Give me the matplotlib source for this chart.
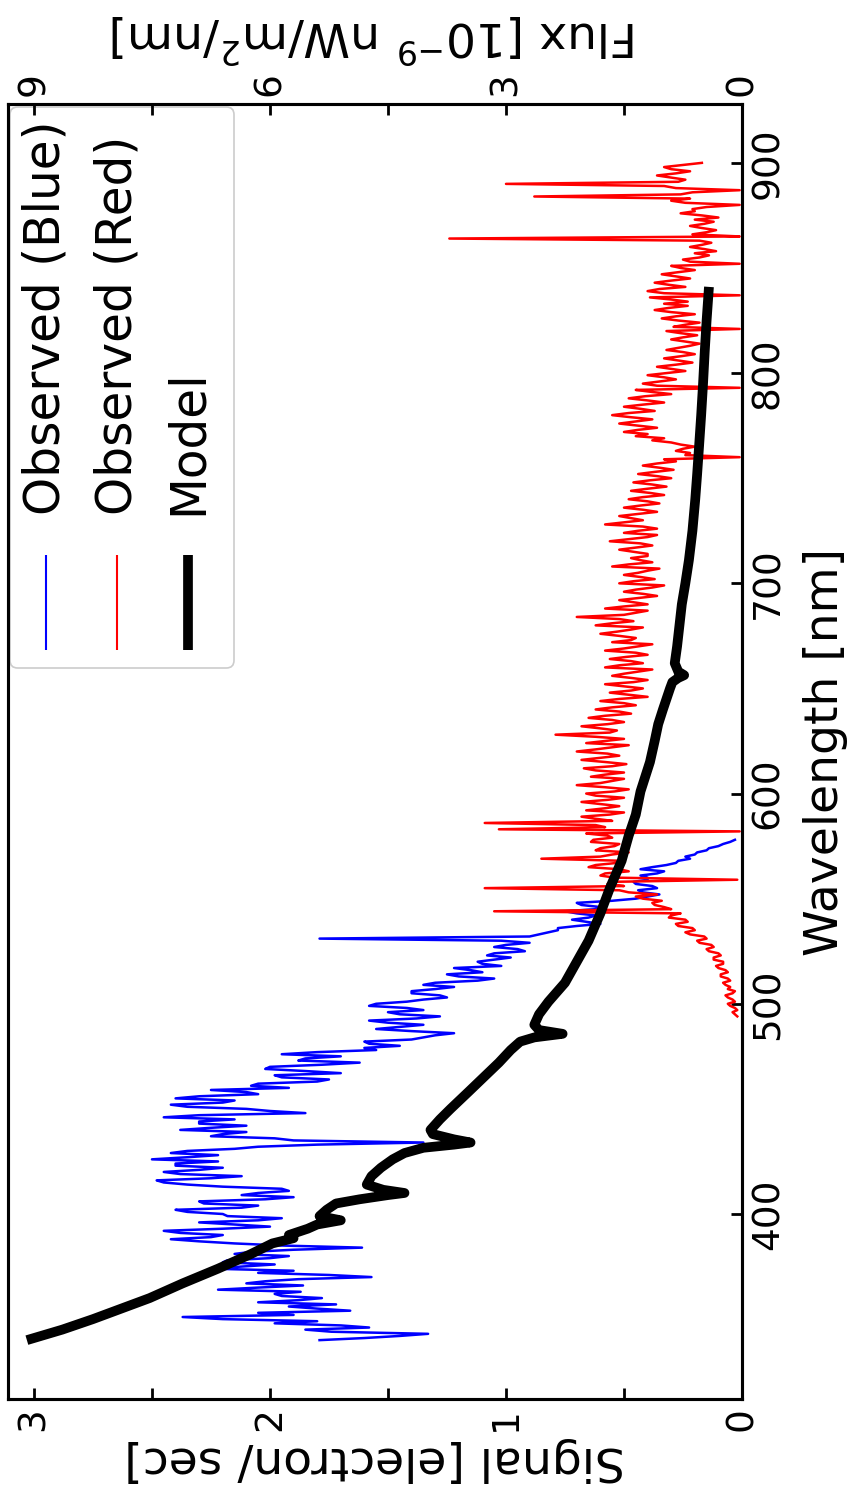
import numpy as np
import matplotlib.pyplot as plt
from matplotlib.patches import FancyBboxPatch
from matplotlib.lines import Line2D
from matplotlib.ticker import MultipleLocator

# observed spectrum, blue arm (1 nm steps, 340-578 nm), signal in electron/sec
blue_wl = np.arange(340, 579)
blue_signal = [
    1.79, 1.60, 1.45, 1.33, 1.74, 1.85, 1.58, 1.70, 1.98, 1.80,
    2.20, 2.37, 1.90, 2.05, 1.66, 1.80, 1.92, 1.72, 2.05, 1.88,   # 340-359
    1.78, 1.95, 1.98, 1.87, 2.22, 2.05, 1.86, 2.10, 2.02, 1.88,
    1.57, 1.75, 2.05, 1.90, 2.25, 2.12, 1.98, 2.20, 2.18, 2.00,   # 360-379
    1.92, 2.15, 2.08, 1.90, 1.61, 1.95, 2.15, 2.30, 2.42, 2.25,
    2.20, 2.38, 2.45, 2.20, 2.00, 2.15, 2.30, 2.05, 1.95, 2.18,   # 380-399
    2.20, 2.35, 2.40, 2.12, 2.05, 2.28, 2.30, 2.02, 1.90, 2.12,
    2.05, 1.92, 1.95, 2.20, 2.35, 2.45, 2.48, 2.25, 2.12, 2.38,   # 400-419
    2.45, 2.30, 2.20, 2.40, 2.40, 2.22, 2.50, 2.35, 2.22, 2.42,
    2.35, 2.15, 2.05, 1.80, 1.35, 1.90, 1.98, 2.25, 2.20, 2.10,   # 420-439
    2.38, 2.25, 2.10, 2.30, 2.30, 2.15, 2.45, 2.30, 1.85, 2.00,
    2.10, 2.35, 2.42, 2.20, 2.15, 2.40, 2.30, 2.05, 2.10, 2.25,   # 440-459
    1.92, 2.08, 2.05, 1.80, 1.75, 1.95, 1.98, 1.70, 1.85, 2.02,
    2.00, 1.78, 1.62, 1.88, 1.85, 1.70, 1.95, 1.80, 1.55, 1.60,   # 460-479
    1.45, 1.58, 1.60, 1.40, 1.35, 1.30, 1.22, 1.40, 1.55, 1.45,
    1.35, 1.50, 1.58, 1.38, 1.28, 1.45, 1.50, 1.35, 1.42, 1.58,   # 480-499
    1.55, 1.42, 1.35, 1.25, 1.28, 1.40, 1.40, 1.30, 1.22, 1.35,
    1.30, 1.12, 1.05, 1.20, 1.25, 1.10, 1.15, 1.22, 1.02, 1.10,   # 500-519
    1.12, 1.05, 0.98, 1.08, 1.05, 0.92, 0.95, 1.05, 1.00, 0.90,
    1.02, 1.79, 0.90, 0.86, 0.82, 0.78, 0.78, 0.70, 0.60, 0.66,   # 520-539
    0.72, 0.65, 0.62, 0.70, 0.75, 0.62, 0.60, 0.68, 0.70, 0.55,
    0.45, 0.40, 0.35, 0.42, 0.44, 0.36, 0.38, 0.45, 0.46, 0.40,   # 540-559
    0.40, 0.43, 0.36, 0.33, 0.43, 0.38, 0.32, 0.28, 0.27, 0.22,
    0.24, 0.20, 0.19, 0.15, 0.14, 0.10, 0.08, 0.05, 0.03,         # 560-578
]

# observed spectrum, red arm (1 nm steps, 494-900 nm)
red_wl = np.arange(494, 901)
red_signal = [
    0.02, 0.03, 0.04, 0.02, 0.03, 0.05, 0.06, 0.03, 0.04, 0.06,
    0.07, 0.04, 0.03, 0.06, 0.05, 0.07, 0.08, 0.05, 0.06, 0.09,   # 494-513
    0.09, 0.06, 0.07, 0.10, 0.11, 0.08, 0.08, 0.12, 0.12, 0.09,
    0.10, 0.14, 0.15, 0.12, 0.13, 0.18, 0.19, 0.15, 0.16, 0.22,   # 514-533
    0.24, 0.20, 0.21, 0.27, 0.28, 0.23, 0.24, 0.31, 0.30, 0.26,
    1.05, 0.30, 0.33, 0.37, 0.38, 0.34, 0.42, 0.45, 0.36, 0.48,   # 534-553
    0.52, 1.09, 0.50, 0.57, 0.55, 0.02, 0.54, 0.60, 0.58, 0.48,
    0.52, 0.65, 0.62, 0.53, 0.50, 0.85, 0.60, 0.55, 0.48, 0.62,   # 554-573
    0.60, 0.54, 0.52, 0.64, 0.63, 0.55, 0.57, 0.66, 0.01, 1.03,
    0.58, 0.62, 1.09, 0.55, 0.62, 0.68, 0.56, 0.50, 0.66, 0.58,   # 574-593
    0.52, 0.60, 0.68, 0.57, 0.50, 0.62, 0.66, 0.54, 0.48, 0.58,
    0.70, 0.60, 0.55, 0.50, 0.64, 0.58, 0.50, 0.62, 0.67, 0.55,   # 594-613
    0.49, 0.58, 0.68, 0.60, 0.52, 0.57, 0.70, 0.62, 0.55, 0.48,
    0.66, 0.58, 0.50, 0.62, 0.79, 0.56, 0.53, 0.60, 0.68, 0.57,   # 614-633
    0.50, 0.55, 0.65, 0.58, 0.47, 0.52, 0.62, 0.55, 0.45, 0.50,
    0.60, 0.52, 0.40, 0.48, 0.56, 0.47, 0.42, 0.50, 0.58, 0.46,   # 634-653
    0.40, 0.47, 0.55, 0.50, 0.44, 0.38, 0.58, 0.52, 0.42, 0.47,
    0.56, 0.49, 0.40, 0.45, 0.58, 0.50, 0.44, 0.38, 0.55, 0.47,   # 654-673
    0.45, 0.52, 0.60, 0.53, 0.47, 0.42, 0.62, 0.55, 0.46, 0.52,
    0.70, 0.50, 0.45, 0.40, 0.58, 0.50, 0.40, 0.46, 0.52, 0.44,   # 674-693
    0.36, 0.42, 0.50, 0.45, 0.38, 0.33, 0.52, 0.46, 0.37, 0.43,
    0.50, 0.44, 0.40, 0.35, 0.55, 0.48, 0.38, 0.43, 0.47, 0.40,   # 694-713
    0.40, 0.46, 0.52, 0.45, 0.38, 0.43, 0.56, 0.48, 0.40, 0.36,
    0.50, 0.44, 0.36, 0.42, 0.58, 0.50, 0.42, 0.47, 0.52, 0.44,   # 714-733
    0.36, 0.42, 0.50, 0.43, 0.35, 0.40, 0.48, 0.42, 0.33, 0.39,
    0.47, 0.40, 0.32, 0.38, 0.46, 0.39, 0.30, 0.36, 0.44, 0.37,   # 734-753
    0.29, 0.35, 0.42, 0.36, 0.28, 0.33, 0.01, 0.24, 0.22, 0.28,
    0.25, 0.20, 0.26, 0.30, 0.38, 0.33, 0.45, 0.40, 0.50, 0.44,   # 754-773
    0.36, 0.44, 0.52, 0.45, 0.38, 0.47, 0.55, 0.48, 0.37, 0.43,
    0.50, 0.42, 0.33, 0.40, 0.48, 0.41, 0.30, 0.38, 0.45, 0.01,   # 774-793
    0.36, 0.42, 0.35, 0.28, 0.33, 0.40, 0.32, 0.24, 0.30, 0.36,
    0.28, 0.21, 0.27, 0.33, 0.26, 0.20, 0.25, 0.32, 0.27, 0.22,   # 794-813
    0.18, 0.24, 0.30, 0.25, 0.19, 0.26, 0.32, 0.01, 0.29, 0.24,
    0.18, 0.27, 0.34, 0.28, 0.20, 0.30, 0.37, 0.31, 0.23, 0.33,   # 814-833
    0.23, 0.30, 0.39, 0.01, 0.33, 0.40, 0.35, 0.24, 0.31, 0.37,
    0.30, 0.22, 0.28, 0.34, 0.27, 0.20, 0.26, 0.30, 0.01, 0.22,   # 834-853
    0.25, 0.18, 0.14, 0.20, 0.11, 0.16, 0.22, 0.17, 0.13, 0.18,
    1.24, 0.01, 0.21, 0.15, 0.11, 0.17, 0.22, 0.16, 0.12, 0.20,   # 854-873
    0.10, 0.17, 0.26, 0.20, 0.21, 0.15, 0.01, 0.24, 0.30, 0.22,
    0.88, 0.26, 0.21, 0.01, 0.28, 0.33, 1.00, 0.27, 0.24, 0.30,   # 874-893
    0.36, 0.28, 0.22, 0.30, 0.33, 0.25, 0.17,                     # 894-900
]

# model spectrum
model_wl = [340, 345, 350, 355, 360, 367, 374, 381, 386, 388.5, 390, 393,
            395, 397, 399, 402, 405, 407, 409, 410, 411.5, 414, 418, 422,
            426, 429, 431.5, 433, 434, 435.5, 438, 440, 445, 450, 458, 465,
            472, 478, 482, 484, 485.7, 487.5, 490, 495, 501, 510, 520, 530,
            543, 555, 568, 580, 590, 601, 615, 625, 633, 640, 645, 650, 653,
            655, 656.3, 658, 662, 670, 680, 690, 700, 711, 725, 740, 752,
            765, 780, 795, 810, 825, 841]
model_signal = [3.03, 2.88, 2.75, 2.63, 2.51, 2.37, 2.22, 2.08, 1.99, 1.90,
                1.92, 1.84, 1.80, 1.70, 1.79, 1.76, 1.72, 1.62, 1.50, 1.43,
                1.52, 1.59, 1.57, 1.53, 1.48, 1.43, 1.35, 1.22, 1.15, 1.22,
                1.31, 1.32, 1.28, 1.235, 1.16, 1.095, 1.03, 0.98, 0.94, 0.88,
                0.76, 0.86, 0.88, 0.86, 0.82, 0.75, 0.70, 0.65, 0.60, 0.56,
                0.51, 0.48, 0.45, 0.43, 0.39, 0.37, 0.355, 0.335, 0.32, 0.305,
                0.295, 0.27, 0.245, 0.27, 0.285, 0.275, 0.265, 0.255, 0.24,
                0.225, 0.21, 0.198, 0.19, 0.182, 0.173, 0.165, 0.158, 0.15,
                0.14]

legend_labels = ['Observed (Blue)', 'Observed (Red)', 'Model']
legend_colors = ['blue', 'red', 'black']
legend_widths = [1.5, 1.5, 7]

W, H = 854, 1504
fig = plt.figure(figsize=(W / 100, H / 100), dpi=100)
ax = fig.add_axes([8 / W, 1 - 1399 / H, 734 / W, 1295 / H])

ax.plot(blue_signal, blue_wl, color='blue', lw=1.8)
ax.plot(red_signal, red_wl, color='red', lw=1.8)
ax.plot(model_signal, model_wl, color='black', lw=7, solid_capstyle='butt')

ax.set_xlim(3.11, 0)
ax.set_ylim(312, 928)
ax.xaxis.set_major_locator(MultipleLocator(1))
ax.xaxis.set_minor_locator(MultipleLocator(0.5))
ax.yaxis.set_major_locator(MultipleLocator(100))
ax.yaxis.tick_right()
ax.yaxis.set_label_position('right')
ax.tick_params(which='both', direction='in', width=2, length=8, labelsize=27, pad=6)
ax.tick_params(axis='both', labelrotation=90)
ax.tick_params(top=False, left=False)
for lab in ax.get_yticklabels():
    lab.set_va('center')

ax2 = ax.twiny()
ax2.set_xlim(3.11 * 3, 0)
ax2.xaxis.set_major_locator(MultipleLocator(3))
ax2.xaxis.set_minor_locator(MultipleLocator(1.5))
ax2.tick_params(which='both', direction='in', width=2, length=8, labelsize=27, pad=6)
ax2.tick_params(axis='x', labelrotation=90)

for a in (ax, ax2):
    for s in a.spines.values():
        s.set_linewidth(2.2)

ax.set_xlabel('Signal [electron/ sec]', fontsize=34, rotation=180)
ax.set_ylabel('Wavelength [nm]', fontsize=34, rotation=90, labelpad=12)
ax2.set_xlabel('Flux [10$^{-9}$ nW/m$^2$/nm]', fontsize=34, rotation=180, labelpad=12)

# legend drawn by hand, its entries rotated like the rest of the chart
frame = FancyBboxPatch((10 / W, 1 - 668 / H), 224 / W, 561 / H,
                       boxstyle='round,pad=0,rounding_size=0.009',
                       mutation_aspect=W / H, transform=fig.transFigure,
                       facecolor='white', edgecolor='#cccccc', lw=1.2, zorder=5)
ax.add_patch(frame)
for i, (lab, c, lw) in enumerate(zip(legend_labels, legend_colors, legend_widths)):
    xc = (46 + 71 * i) / W
    ax.add_line(Line2D([xc, xc], [1 - 650 / H, 1 - 555 / H], color=c, lw=lw,
                       transform=fig.transFigure, zorder=6, solid_capstyle='butt'))
    fig.text(xc, 1 - 515 / H, lab, rotation=90, ha='center', va='bottom',
             fontsize=35, zorder=6)

fig.savefig('out.png', dpi=100)
